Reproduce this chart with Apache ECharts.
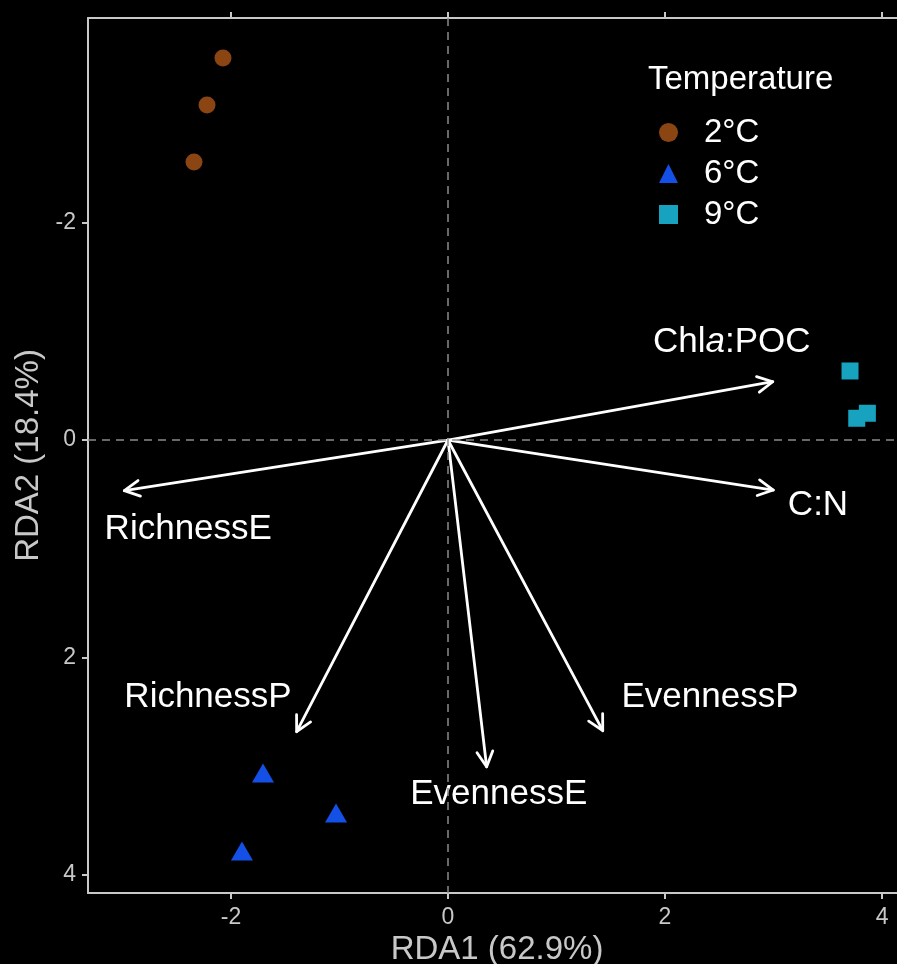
<!DOCTYPE html>
<html>
<head>
<meta charset="utf-8">
<script src="https://cdn.jsdelivr.net/npm/echarts@6/dist/echarts.min.js"></script>
<style>
html,body{margin:0;padding:0;background:#000;}
#chart{width:897px;height:964px;}
</style>
</head>
<body>
<div id="chart"></div>
<script>
// ---- Data ----
const tickValues = [-2, 0, 2, 4];
const groups = ['2°C', '6°C', '9°C'];
const ptsX_2C = [-2.074, -2.221, -2.341];
const ptsY_2C = [-3.514, -3.082, -2.557];
const ptsX_6C = [-1.705, -1.032, -1.899];
const ptsY_6C = [3.063, 3.431, 3.781];
const ptsX_9C = [3.705, 3.767, 3.865];
const ptsY_9C = [-0.635, -0.200, -0.246];
const arrowNames = ['Chla:POC', 'C:N', 'RichnessE', 'RichnessP', 'EvennessE', 'EvennessP'];
const arrowX = [2.993, 2.998, -2.983, -1.395, 0.356, 1.426];
const arrowY = [-0.536, 0.460, 0.466, 2.683, 3.006, 2.674];
const labelX = [2.615, 3.410, -2.394, -2.212, 0.468, 2.415];
const labelY = [-0.897, 0.598, 0.820, 2.364, 3.257, 2.364];
const xTitle = 'RDA1 (62.9%)';
const yTitle = 'RDA2 (18.4%)';
const legendTitle = 'Temperature';

const colors = {'2°C': '#8B4513', '6°C': '#1450E6', '9°C': '#17A3BF'};
const symbols = {'2°C': 'circle', '6°C': 'triangle', '9°C': 'rect'};
const sizes = {'2°C': 17, '6°C': [22, 19], '9°C': 17};

const zip = (a, b) => a.map((v, i) => [v, b[i]]);
const ptData = {'2°C': zip(ptsX_2C, ptsY_2C), '6°C': zip(ptsX_6C, ptsY_6C), '9°C': zip(ptsX_9C, ptsY_9C)};

const axisColor = '#c8c8c8';
const FONT = '"Liberation Sans", Arial, sans-serif';

const chart = echarts.init(document.getElementById('chart'), null, {renderer: 'canvas'});

const scatterSeries = groups.map(g => ({
  name: g,
  type: 'scatter',
  symbol: symbols[g],
  symbolSize: sizes[g],
  itemStyle: {color: colors[g], opacity: 1},
  data: ptData[g],
  z: 5
}));

const option = {
  backgroundColor: '#000',
  animation: false,
  grid: {left: 88, top: 18, right: -9, bottom: 71, containLabel: false, outerBoundsMode: 'none'},
  xAxis: [{
    type: 'value', min: -3.318, max: 4.221, position: 'bottom',
    name: xTitle, nameLocation: 'middle', nameGap: 35,
    nameTextStyle: {color: axisColor, fontSize: 33, fontFamily: FONT},
    axisLine: {show: true, onZero: false, lineStyle: {color: axisColor, width: 2}},
    axisTick: {show: true, length: 6, lineStyle: {color: axisColor, width: 2}, customValues: tickValues},
    axisLabel: {show: true, color: axisColor, fontSize: 23, fontFamily: FONT, margin: 13, customValues: tickValues},
    splitLine: {show: false}
  }, {
    type: 'value', min: -3.318, max: 4.221, position: 'top',
    axisLine: {show: true, onZero: false, lineStyle: {color: axisColor, width: 2}},
    axisTick: {show: true, length: 6, lineStyle: {color: axisColor, width: 2}, customValues: tickValues},
    axisLabel: {show: false},
    splitLine: {show: false}
  }],
  yAxis: {
    type: 'value', min: -3.882, max: 4.167, inverse: true,
    name: yTitle, nameLocation: 'middle', nameGap: 43, nameRotate: 90, nameMoveOverlap: false,
    nameTextStyle: {color: axisColor, fontSize: 33, fontFamily: FONT},
    axisLine: {show: true, onZero: false, lineStyle: {color: axisColor, width: 2}},
    axisTick: {show: true, length: 6, lineStyle: {color: axisColor, width: 2}, customValues: tickValues},
    axisLabel: {show: true, color: axisColor, fontSize: 23, fontFamily: FONT, margin: 12, customValues: tickValues},
    splitLine: {show: false}
  },
  legend: {
    orient: 'vertical', left: 654, top: 111,
    itemWidth: 19, itemHeight: 19, itemGap: 8,
    data: [
      {name: '2°C', icon: 'circle'},
      {name: '6°C', icon: 'triangle'},
      {name: '9°C', icon: 'rect'}
    ],
    textStyle: {color: '#fff', fontSize: 33, fontFamily: FONT, padding: [0, 0, 0, 21], lineHeight: 32},
    selectedMode: false
  },
  graphic: [{
    type: 'text', left: 648, top: 63,
    style: {text: legendTitle, fill: '#fff', fontSize: 33, fontFamily: FONT}
  }],
  series: [
    {
      type: 'line', data: [], silent: true,
      markLine: {
        silent: true, symbol: 'none', label: {show: false},
        lineStyle: {color: '#8a8a8a', width: 1.5, type: [8, 6]},
        data: [{xAxis: 0}, {yAxis: 0}]
      },
      z: 1
    },
    {
      type: 'custom',
      silent: true,
      data: zip(arrowX, arrowY),
      renderItem: function (params, api) {
        const p0 = api.coord([0, 0]);
        const p1 = api.coord([api.value(0), api.value(1)]);
        const a = Math.atan2(p1[1] - p0[1], p1[0] - p0[0]);
        const L = 17, th = Math.PI / 6.5;
        const h1 = [p1[0] - L * Math.cos(a - th), p1[1] - L * Math.sin(a - th)];
        const h2 = [p1[0] - L * Math.cos(a + th), p1[1] - L * Math.sin(a + th)];
        const st = {stroke: '#fff', lineWidth: 2.8, lineCap: 'round', lineJoin: 'round', fill: null};
        return {
          type: 'group',
          children: [
            {type: 'line', shape: {x1: p0[0], y1: p0[1], x2: p1[0], y2: p1[1]}, style: st},
            {type: 'polyline', shape: {points: [h1, p1, h2]}, style: st}
          ]
        };
      },
      z: 3
    },
    {
      type: 'custom',
      silent: true,
      data: labelX.map((x, i) => [x, labelY[i], i]),
      renderItem: function (params, api) {
        const p = api.coord([api.value(0), api.value(1)]);
        const name = arrowNames[api.value(2)];
        const txt = name === 'Chla:POC' ? '{n|Chl}{i|a}{n|:POC}' : '{n|' + name + '}';
        return {
          type: 'text',
          x: p[0], y: p[1],
          style: {
            text: txt, align: 'center', verticalAlign: 'middle',
            fill: '#fff', fontSize: 35, fontFamily: FONT,
            rich: {
              n: {fill: '#fff', fontSize: 35, fontFamily: FONT},
              i: {fill: '#fff', fontSize: 35, fontFamily: FONT, fontStyle: 'italic'}
            }
          }
        };
      },
      z: 4
    }
  ].concat(scatterSeries)
};
chart.setOption(option);
</script>
</body>
</html>
